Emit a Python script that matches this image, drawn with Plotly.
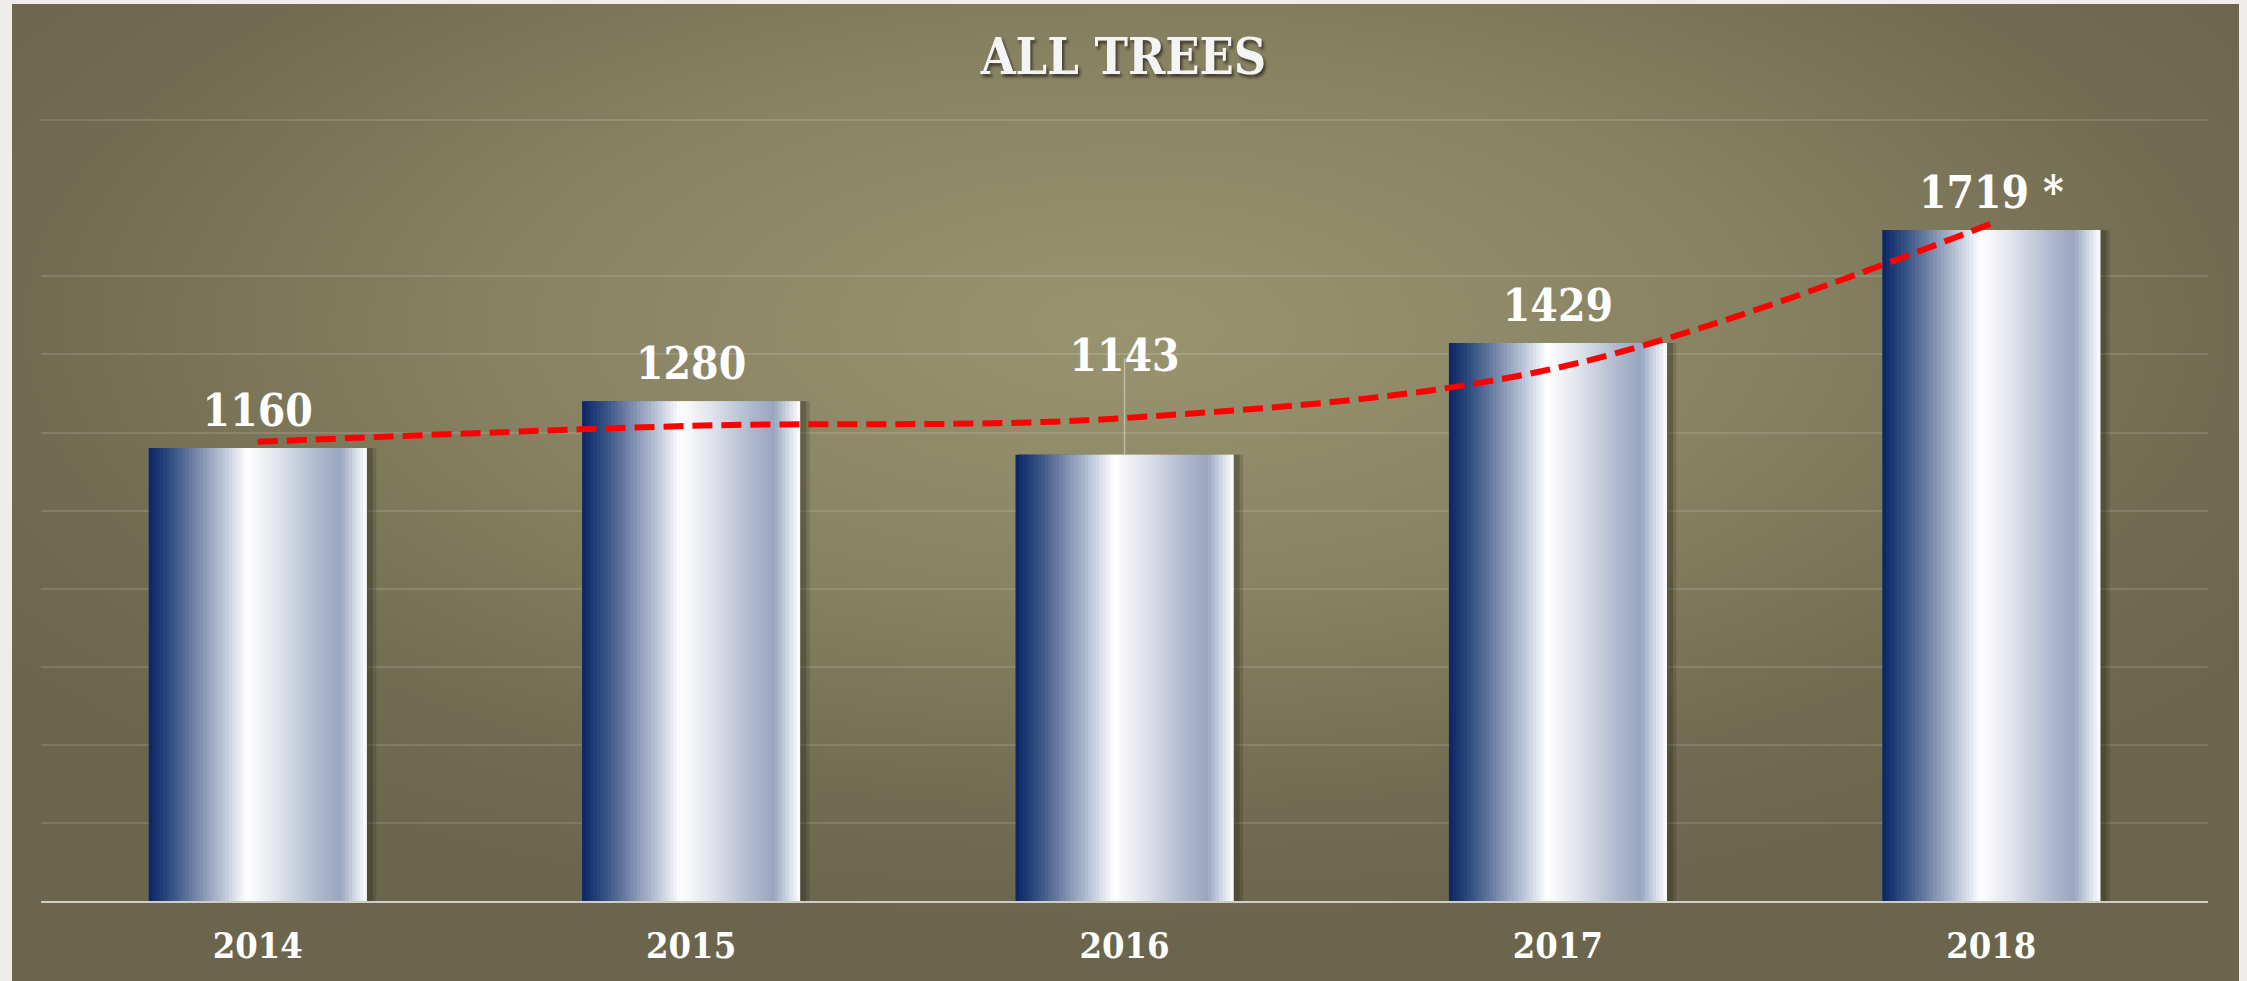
import base64
import plotly.graph_objects as go

# ---------------- data ----------------
years = ["2014", "2015", "2016", "2017", "2018"]
trees = [1160, 1280, 1143, 1429, 1719]
value_labels = ["1160", "1280", "1143", "1429", "1719 *"]
# polynomial trendline values read at each year
trend = [1176, 1217, 1237, 1366, 1735]
grid_values = [200, 400, 600, 800, 1000, 1200, 1400, 1600, 2000]
title_text = "ALL TREES"

# ---------------- styling ----------------
SERIF = "DejaVu Serif Condensed, DejaVu Serif, Liberation Serif"
LABEL_SIZE = 44
BAR_W = 0.503
N_SLICES = 60
# invisible marker sizes used to lift each value label above its bar (px)
label_lift = [16.0, 16.0, 115.0, 16.0, 16.0]
# leader line (only shown for the moved 2016 label), marker size in px
leader_size = [0, 0, 138, 0, 0]

grad_stops = [
    (0.00, (10, 37, 99)),
    (0.10, (50, 78, 130)),
    (0.22, (118, 136, 170)),
    (0.34, (185, 195, 215)),
    (0.45, (255, 255, 255)),
    (0.60, (222, 226, 235)),
    (0.78, (172, 184, 204)),
    (0.88, (152, 166, 192)),
    (0.94, (205, 213, 226)),
    (1.00, (255, 255, 255)),
]


def grad_color(t):
    for (t0, c0), (t1, c1) in zip(grad_stops[:-1], grad_stops[1:]):
        if t0 <= t <= t1:
            f = (t - t0) / (t1 - t0) if t1 > t0 else 0
            c = [round(a + (b - a) * f) for a, b in zip(c0, c1)]
            return "rgb(%d,%d,%d)" % tuple(c)
    return "rgb(255,255,255)"


fig = go.Figure()

# leader line for the 2016 label (on the base axis; bars on the overlay axis cover its lower half)
fig.add_trace(go.Scatter(
    x=years, y=trees, mode="markers", yaxis="y",
    marker=dict(symbol="line-ns", size=leader_size, color="rgba(0,0,0,0)",
                line=dict(color="rgba(235,235,230,0.7)", width=1.5)),
    hoverinfo="skip", showlegend=False, cliponaxis=False,
))

# soft shadow behind bars
for dx, extra, alpha in [(0.010, 0.016, 0.18), (0.006, 0.008, 0.25)]:
    fig.add_trace(go.Bar(
        x=years, y=trees, yaxis="y2",
        width=BAR_W + extra, offset=-BAR_W / 2 + dx - extra / 2 + 0.004,
        marker=dict(color="rgba(35,32,18,%.2f)" % alpha, line=dict(width=0)),
        hoverinfo="skip", showlegend=False,
    ))

# gradient bars built from thin overlapping slices
sw = BAR_W / N_SLICES
for i in range(N_SLICES):
    t = (i + 0.5) / N_SLICES
    w = sw if i == N_SLICES - 1 else sw * 2.0
    fig.add_trace(go.Bar(
        x=years, y=trees, yaxis="y2",
        width=w, offset=-BAR_W / 2 + i * sw,
        marker=dict(color=grad_color(t), line=dict(width=0)),
        hoverinfo="skip", showlegend=False,
    ))

# trendline
fig.add_trace(go.Scatter(
    x=years, y=trend, mode="lines", yaxis="y2",
    line=dict(color="#ff0000", width=6, dash="20px,9px", shape="spline", smoothing=1),
    hoverinfo="skip", showlegend=False,
))

# value labels
fig.add_trace(go.Scatter(
    x=years, y=trees, mode="markers+text", yaxis="y2",
    text=value_labels, textposition="top center",
    textfont=dict(family=SERIF, size=LABEL_SIZE, color="#ffffff", weight="bold"),
    marker=dict(size=label_lift, color="rgba(0,0,0,0)", line=dict(width=0)),
    hoverinfo="skip", showlegend=False, cliponaxis=False,
))

# background (radial olive gradient) as svg image
W, H = 2227, 977
svg = f'''<svg xmlns="http://www.w3.org/2000/svg" width="{W}" height="{H}" viewBox="0 0 {W} {H}" preserveAspectRatio="none">
<defs><radialGradient id="g" cx="0.5" cy="0.33" r="0.62">
<stop offset="0" stop-color="#999470"/>
<stop offset="0.45" stop-color="#878262"/>
<stop offset="0.8" stop-color="#716c51"/>
<stop offset="1" stop-color="#6a654c"/>
</radialGradient></defs>
<rect width="{W}" height="{H}" fill="url(#g)"/></svg>'''
bg_src = "data:image/svg+xml;base64," + base64.b64encode(svg.encode()).decode()

PL, PR, PT, PB = 41, 39, 119, 80
pw = 2247 - PL - PR
ph = 981 - PT - PB
Y_RANGE = [0, 2003]

fig.update_layout(
    width=2247, height=981,
    margin=dict(l=PL, r=PR, t=PT, b=PB),
    paper_bgcolor="#eeedea",
    plot_bgcolor="rgba(0,0,0,0)",
    barmode="overlay",
    showlegend=False,
    title=dict(
        text=title_text, x=0.5, xanchor="center", y=1 - 56 / 981, yanchor="middle",
        yref="container",
        font=dict(family=SERIF, size=50, color="#f4f4f4", weight="bold",
                  shadow="2px 3px 3px rgba(0,0,0,0.55)"),
    ),
    xaxis=dict(
        type="category", range=[-0.5, 4.5], showgrid=False, zeroline=False,
        showline=True, linecolor="rgba(225,225,220,0.85)", linewidth=2,
        ticks="", ticklabelstandoff=12, automargin=False,
        tickfont=dict(family=SERIF, size=36, color="#ffffff", weight="bold"),
    ),
    yaxis=dict(
        range=Y_RANGE, tickvals=grid_values, showticklabels=False,
        showgrid=True, gridcolor="rgba(255,255,255,0.13)", gridwidth=2,
        zeroline=False, showline=False, automargin=False,
    ),
    yaxis2=dict(
        range=Y_RANGE, overlaying="y", side="left", showgrid=False,
        showticklabels=False, zeroline=False, showline=False, ticks="",
        automargin=False,
    ),
    images=[dict(
        source=bg_src, xref="paper", yref="paper",
        x=(12 - PL) / pw, y=(981 - PB - 4) / ph,
        sizex=(2239 - 12) / pw, sizey=(981 - 4) / ph,
        sizing="stretch", xanchor="left", yanchor="top", layer="below",
    )],
)

fig.write_html(
    "out.html",
    config={"displayModeBar": False},
    post_script="document.body.style.margin='0';document.body.style.overflow='hidden';",
)
